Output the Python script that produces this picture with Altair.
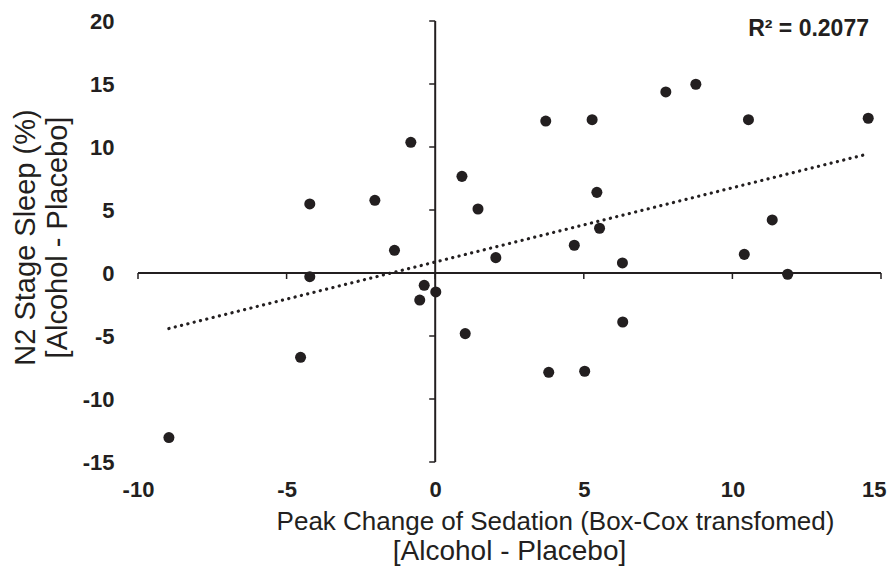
import altair as alt
import pandas as pd

# Data
sedation = [-4.22, -2.03, -0.82, -1.37, -4.22, 0.90, 1.44, 2.04, -0.37, 0.02,
            -0.52, 1.01, -4.53, -8.96, 3.72, 5.28, 7.76, 8.77, 10.54, 14.57,
            5.44, 5.53, 4.68, 6.30, 10.40, 11.34, 11.86, 6.31, 3.82, 5.03]
n2_sleep = [5.48, 5.77, 10.37, 1.80, -0.29, 7.67, 5.08, 1.22, -0.98, -1.50,
            -2.15, -4.81, -6.69, -13.06, 12.06, 12.17, 14.37, 14.98, 12.17, 12.28,
            6.40, 3.55, 2.20, 0.80, 1.48, 4.21, -0.10, -3.89, -7.88, -7.80]
x_ticks = [-10, -5, 0, 5, 10, 15]
y_ticks = [-15, -10, -5, 0, 5, 10, 15, 20]
r2_label = ["R² = 0.2077"]
x_title_1 = "Peak Change of Sedation (Box-Cox transfomed)"
x_title_2 = "[Alcohol - Placebo]"
y_title = ["N2 Stage Sleep (%)", "[Alcohol - Placebo]"]

INK = "#231f20"
FONT = "Liberation Sans"

df = pd.DataFrame({"sx": sedation, "sy": n2_sleep})

xscale = alt.Scale(domain=[x_ticks[0], x_ticks[-1]], nice=False, zero=False)
yscale = alt.Scale(domain=[y_ticks[0], y_ticks[-1]], nice=False, zero=False)

last_x = "datum.value == %d" % x_ticks[-1]
xaxis = alt.Axis(
    values=x_ticks, labelExpr="datum.value + ''", labelFlush=False,
    labelAlign={"condition": {"test": last_x, "value": "right"}, "value": "center"},
    labelOffset={"condition": {"test": last_x, "value": 5}, "value": 0},
    labelFont=FONT, labelFontSize=22, labelFontWeight="bold", labelColor=INK,
    labelPadding=17, domain=False, ticks=False, tickSize=0, grid=False,
    title=x_title_1, titleFont=FONT, titleFontSize=26, titleFontWeight="normal",
    titleColor=INK, titleX=417, titleY=67, titleAlign="center",
    titleBaseline="alphabetic",
)
yaxis = alt.Axis(
    values=y_ticks, labelExpr="datum.value + ''", labelFlush=False,
    labelFont=FONT, labelFontSize=22, labelFontWeight="bold", labelColor=INK,
    labelPadding=24, domain=False, ticks=False, tickSize=0, grid=False,
    title=y_title, titleFont=FONT, titleFontSize=29, titleFontWeight="normal",
    titleColor=INK, titleX=-113, titleY=216, titleAlign="center",
    titleBaseline="middle", titleLineHeight=32, titleAngle=270,
)


def X(field):
    return alt.X(field, type="quantitative", scale=xscale, axis=xaxis)


def Y(field):
    return alt.Y(field, type="quantitative", scale=yscale, axis=yaxis)


points = alt.Chart(df).mark_circle(size=122, color=INK, opacity=1).encode(
    x=X("sx"), y=Y("sy"),
)

trend = alt.Chart(df).transform_regression("sx", "sy").mark_line(
    color=INK, strokeWidth=3.2, strokeDash=[0.1, 6.4], strokeCap="round"
).encode(x=X("sx"), y=Y("sy"))

hdf = pd.DataFrame({"sx": [x_ticks[0]], "x2": [x_ticks[-1]], "sy": [0]})
hline = alt.Chart(hdf).mark_rule(color=INK, strokeWidth=2).encode(
    x=X("sx"), x2="x2:Q", y=Y("sy"),
)
vdf = pd.DataFrame({"sy": [y_ticks[0]], "y2": [y_ticks[-1]], "sx": [0]})
vline = alt.Chart(vdf).mark_rule(color=INK, strokeWidth=2).encode(
    y=Y("sy"), y2="y2:Q", x=X("sx"),
)

xt = alt.Chart(pd.DataFrame({"sx": x_ticks, "sy": [0] * len(x_ticks)})).mark_tick(
    orient="vertical", size=6, thickness=1.5, yOffset=3, color=INK, opacity=1
).encode(x=X("sx"), y=Y("sy"))
yt = alt.Chart(pd.DataFrame({"sy": y_ticks, "sx": [0] * len(y_ticks)})).mark_tick(
    orient="horizontal", size=6, thickness=1.5, xOffset=-3, color=INK, opacity=1
).encode(y=Y("sy"), x=X("sx"))

r2 = alt.Chart(pd.DataFrame({"t": r2_label})).mark_text(
    align="right", baseline="alphabetic", font=FONT, fontSize=23,
    fontWeight="bold", color=INK
).encode(x=alt.value(731), y=alt.value(15), text="t:N")

chart = alt.layer(points, trend, hline, vline, xt, yt, r2).properties(
    width=743, height=441,
    autosize=alt.AutoSizeParams(type="none"),
    padding={"left": 130, "top": 13, "right": 6, "bottom": 105},
    title=alt.TitleParams(
        text=x_title_2, orient="bottom", anchor="middle", font=FONT,
        fontSize=28, fontWeight="normal", color=INK, offset=4,
    ),
).configure_view(stroke="transparent")

chart.save("out.html", embed_options={"renderer": "svg", "actions": False})
